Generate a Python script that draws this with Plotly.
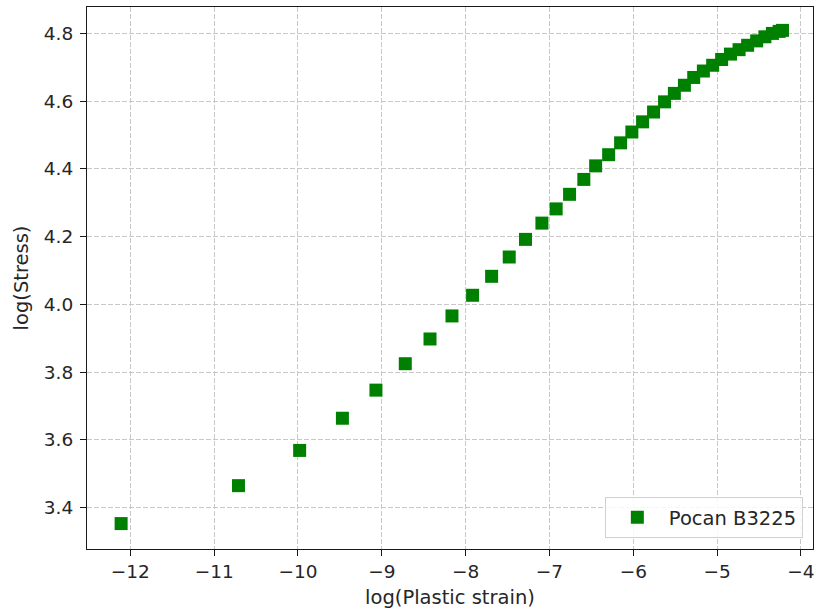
import plotly.graph_objects as go

log_plastic_strain = [-12.11, -10.71, -9.98, -9.47, -9.07, -8.72, -8.425, -8.163, -7.917, -7.69,
                      -7.48, -7.286, -7.09, -6.92, -6.76, -6.59, -6.449, -6.294, -6.151, -6.017,
                      -5.889, -5.758, -5.627, -5.51, -5.39, -5.279, -5.164, -5.053, -4.946, -4.84,
                      -4.738, -4.636, -4.528, -4.43, -4.34, -4.26, -4.22]
log_stress = [3.353, 3.465, 3.569, 3.664, 3.747, 3.825, 3.898, 3.966, 4.027, 4.083,
              4.140, 4.192, 4.240, 4.282, 4.325, 4.369, 4.409, 4.442, 4.477, 4.509,
              4.539, 4.568, 4.598, 4.623, 4.647, 4.670, 4.689, 4.706, 4.723, 4.739,
              4.752, 4.765, 4.778, 4.790, 4.800, 4.806, 4.809]
series_name = "Pocan B3225"
x_ticks = [-12, -11, -10, -9, -8, -7, -6, -5, -4]
y_ticks = [3.4, 3.6, 3.8, 4.0, 4.2, 4.4, 4.6, 4.8]

FONT = "DejaVu Sans"
fig = go.Figure()
fig.add_trace(go.Scatter(
    x=log_plastic_strain, y=log_stress, mode="markers", name=series_name,
    marker=dict(symbol="square", size=13, color="#008000", line=dict(width=0)),
    showlegend=True,
))

axis_common = dict(
    showline=True, linecolor="#1a1a1a", linewidth=1.2, mirror=True,
    ticks="outside", ticklen=6, tickwidth=1.2, tickcolor="#1a1a1a",
    showgrid=True, gridcolor="#c8c8c8", gridwidth=1, griddash="5px,2px",
    zeroline=False, tickfont=dict(family=FONT, size=18.5, color="#262626"),
    automargin=False,
)

fig.update_xaxes(
    range=[-12.517, -3.856], tickmode="array", tickvals=x_ticks,
    title=dict(text="log(Plastic strain)", font=dict(family=FONT, size=19.5, color="#262626"), standoff=9),
    **axis_common,
)
fig.update_yaxes(
    range=[3.278, 4.878], tickmode="array", tickvals=y_ticks, tickformat=".1f",
    ticklabelstandoff=3,
    title=dict(text="log(Stress)", font=dict(family=FONT, size=19.5, color="#262626"), standoff=9),
    **axis_common,
)

fig.update_layout(
    width=816, height=614,
    margin=dict(l=87, r=3, t=7, b=65),
    plot_bgcolor="white", paper_bgcolor="white",
    font=dict(family=FONT, color="#262626"),
    legend=dict(
        x=0.986, y=0.02, xanchor="right", yanchor="bottom",
        bgcolor="rgba(255,255,255,0.85)", bordercolor="#d0d0d0", borderwidth=1,
        font=dict(family=FONT, size=19.5, color="#262626"),
        itemwidth=53,
    ),
)

post = (
    "document.documentElement.style.margin='0';"
    "document.documentElement.style.overflow='hidden';"
    "document.body.style.margin='0';"
    "document.body.style.overflow='hidden';"
    "var gd=document.getElementById('{plot_id}');"
    "Plotly.relayout(gd,{width:816,height:614});"
)
fig.write_html("out.html", post_script=post, config={"displayModeBar": False})
